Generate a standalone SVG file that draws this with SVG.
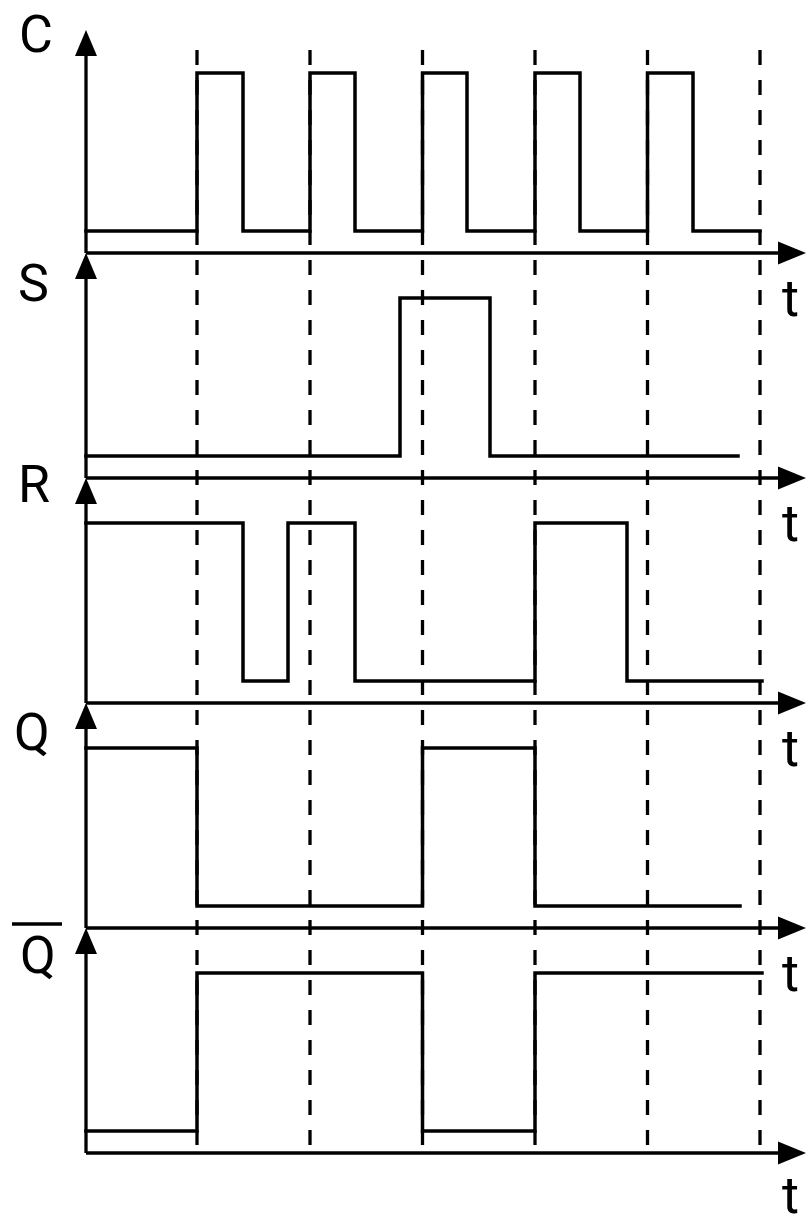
<svg xmlns="http://www.w3.org/2000/svg" width="809" height="1220" viewBox="0 0 809 1220">
<style>
.ax{stroke:#000;stroke-width:3.3;fill:none}
.wf{stroke:#000;stroke-width:3.5;fill:none;stroke-linejoin:miter;stroke-linecap:square}
.dash{stroke:#000;stroke-width:3.3;stroke-dasharray:15 15;fill:none}
.lbl{font-family:Roboto,"Liberation Sans",sans-serif;font-size:52px;fill:#000}
.ah{fill:#000}
</style>
<rect width="809" height="1220" fill="#fff"/>
<g id="gridlines">
<line class="dash" x1="197" y1="50" x2="197" y2="1146"/>
<line class="dash" x1="310" y1="50" x2="310" y2="1146"/>
<line class="dash" x1="422.5" y1="50" x2="422.5" y2="1146"/>
<line class="dash" x1="535" y1="50" x2="535" y2="1146"/>
<line class="dash" x1="647.5" y1="50" x2="647.5" y2="1146"/>
<line class="dash" x1="760" y1="50" x2="760" y2="1146"/>
</g>
<g id="axes">
<line class="ax" x1="86" y1="253" x2="86" y2="52"/>
<polygon class="ah" points="86,30 75,56 97,56"/>
<line class="ax" x1="86" y1="253" x2="782" y2="253"/>
<polygon class="ah" points="806,253 778,241.5 778,264.5"/>

<line class="ax" x1="86" y1="478" x2="86" y2="275"/>
<polygon class="ah" points="86,253 75,279 97,279"/>
<line class="ax" x1="86" y1="478" x2="782" y2="478"/>
<polygon class="ah" points="806,478 778,466.5 778,489.5"/>

<line class="ax" x1="86" y1="703" x2="86" y2="500"/>
<polygon class="ah" points="86,478 75,504 97,504"/>
<line class="ax" x1="86" y1="703" x2="782" y2="703"/>
<polygon class="ah" points="806,703 778,691.5 778,714.5"/>

<line class="ax" x1="86" y1="928" x2="86" y2="725"/>
<polygon class="ah" points="86,703 75,729 97,729"/>
<line class="ax" x1="86" y1="928" x2="782" y2="928"/>
<polygon class="ah" points="806,928 778,916.5 778,939.5"/>

<line class="ax" x1="86" y1="1153" x2="86" y2="950"/>
<polygon class="ah" points="86,928 75,954 97,954"/>
<line class="ax" x1="86" y1="1153" x2="782" y2="1153"/>
<polygon class="ah" points="806,1153 778,1141.5 778,1164.5"/>
</g>
<g id="signal-C">
<text class="lbl" x="19" y="52">C</text>
<polyline class="wf" points="86,231 197,231 197,73 243,73 243,231 310,231 310,73 355,73 355,231 422.5,231 422.5,73 467,73 467,231 535,231 535,73 580,73 580,231 647.5,231 647.5,73 693,73 693,231 760,231"/>
<text class="lbl" x="782" y="316">t</text>
</g>
<g id="signal-S">
<text class="lbl" x="18" y="301">S</text>
<polyline class="wf" points="86,456 400,456 400,298 490,298 490,456 738,456"/>
<text class="lbl" x="782" y="541">t</text>
</g>
<g id="signal-R">
<text class="lbl" x="18" y="502">R</text>
<polyline class="wf" points="86,523 243,523 243,681 288,681 288,523 355,523 355,681 535,681 535,523 627,523 627,681 762,681"/>
<text class="lbl" x="782" y="766">t</text>
</g>
<g id="signal-Q">
<text class="lbl" x="14" y="750">Q</text>
<polyline class="wf" points="86,748 197,748 197,906 422.5,906 422.5,748 535,748 535,906 740,906"/>
<text class="lbl" x="782" y="991">t</text>
</g>
<g id="signal-Qbar">
<line class="ax" x1="12" y1="924" x2="62" y2="924"/>
<text class="lbl" x="20" y="973">Q</text>
<polyline class="wf" points="86,1131 197,1131 197,973 422.5,973 422.5,1131 535,1131 535,973 762,973"/>
<text class="lbl" x="782" y="1213">t</text>
</g>
</svg>
